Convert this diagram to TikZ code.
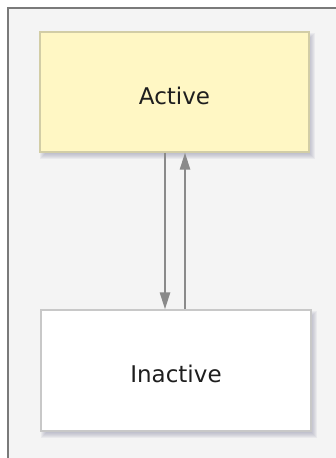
\documentclass[tikz,border=0pt]{standalone}
\usepackage{fontspec}
\setmainfont{DejaVu Sans}
\usetikzlibrary{arrows.meta,backgrounds}
\definecolor{framec}{HTML}{7A7A7A}
\definecolor{bgc}{HTML}{F4F4F4}
\definecolor{activefill}{HTML}{FFF7C4}
\definecolor{activeborder}{HTML}{D2CDA6}
\definecolor{inactiveborder}{HTML}{C8C8C8}
\definecolor{arrc}{HTML}{8A8A8A}
\definecolor{txtc}{HTML}{1E1E1E}
\definecolor{shc}{HTML}{8A90A6}
\tikzset{
  statebox/.style={draw, line width=1.2pt, inner sep=0pt,
    font=\fontsize{23}{27}\selectfont, text=txtc,
    text height=24pt, text depth=0pt},
  arr/.style={draw=arrc, line width=2.4pt, -{Triangle[length=17pt,width=10pt]}, arrc},
  shadowlayer/.style={fill=shc, fill opacity=0.1}
}
\begin{document}
\begin{tikzpicture}[x=1pt,y=1pt]
\useasboundingbox (0,0) rectangle (336,-458);
\node[statebox, fill=activefill, draw=activeborder, minimum width=269pt, minimum height=120pt] (a) at (174.5,-92) {Active};
\node[statebox, fill=white, draw=inactiveborder, minimum width=270pt, minimum height=121pt] (b) at (176,-370.5) {Inactive};
\begin{scope}[on background layer]
\fill[white] (0,0) rectangle (336,-458);
\fill[bgc] (8,-8) rectangle (336,-458);
\draw[framec, line width=2.4pt] (8,-458) -- (8,-8) -- (336,-8);
\foreach \n in {a,b}{
  \foreach \r in {-2,-1,0,1,2,3}{
    \fill[shadowlayer] ([shift={(3+\r,-4-\r)}]\n.north west) rectangle ([shift={(3-\r,-4+\r)}]\n.south east);
  }
}
\end{scope}
\draw[arr] ([xshift=-9.5pt]a.south) -- ([xshift=-9.5pt]a.south |- b.north);
\draw[arr] ([xshift=10.5pt]a.south |- b.north) -- ([xshift=10.5pt]a.south);
\end{tikzpicture}
\end{document}
